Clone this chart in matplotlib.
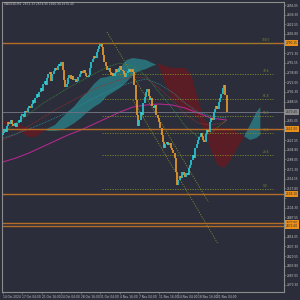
import matplotlib
matplotlib.use("Agg")
import matplotlib.pyplot as plt
import numpy as np

# ---------------- data ----------------
closes = [
    2634.0, 2640.5, 2636.2, 2646.2, 2653.1, 2648.8, 2656.5, 2650.1, 2645.6, 2651.4,
    2644.9, 2651.4, 2656.8, 2652.3, 2663.5, 2667.0, 2662.4, 2672.2, 2669.9, 2677.4,
    2681.1, 2676.8, 2684.3, 2690.8, 2686.3, 2694.7, 2701.9, 2696.7, 2705.1, 2712.3,
    2707.3, 2719.0, 2724.5, 2718.0, 2729.4, 2736.6, 2739.8, 2724.0, 2736.4, 2741.6,
    2746.8, 2743.5, 2750.2, 2753.7, 2749.4, 2757.2, 2743.3, 2726.0, 2713.8, 2719.0,
    2729.4, 2734.9, 2728.4, 2732.9, 2725.4, 2727.7, 2722.0, 2724.2, 2731.7, 2736.9,
    2741.8, 2738.6, 2743.3, 2737.8, 2733.4, 2730.9, 2734.6, 2746.8, 2757.2, 2762.4,
    2767.6, 2764.1, 2774.5, 2779.7, 2784.9, 2788.4, 2782.9, 2769.3, 2757.2, 2750.2,
    2743.3, 2747.6, 2739.8, 2734.4, 2737.6, 2732.4, 2738.1, 2744.6, 2740.0, 2746.8,
    2749.8, 2743.3, 2741.6, 2736.1, 2731.6, 2737.4, 2741.8, 2745.3, 2740.0, 2745.3,
    2739.8, 2717.3, 2691.3, 2665.2, 2646.2, 2656.5, 2670.4, 2665.4, 2686.0, 2696.5,
    2705.1, 2710.6, 2698.2, 2691.3, 2695.3, 2680.8, 2677.4, 2682.2, 2665.2, 2660.0,
    2653.1, 2642.7, 2630.5, 2618.4, 2608.0, 2615.2, 2618.4, 2612.9, 2616.5, 2608.0,
    2604.5, 2599.3, 2590.6, 2566.3, 2543.8, 2552.0, 2559.4, 2555.9, 2566.3, 2560.9,
    2557.4, 2564.9, 2560.3, 2573.3, 2578.5, 2587.2, 2595.8, 2590.0, 2608.0, 2614.9,
    2621.9, 2627.1, 2634.3, 2628.8, 2622.3, 2618.9, 2632.3, 2639.2, 2635.2, 2653.1,
    2660.0, 2656.2, 2670.4, 2675.6, 2680.8, 2676.3, 2687.8, 2694.7, 2701.7, 2712.1,
    2717.3, 2699.9, 2670.4,
]
first_open = 2630.0

# Ichimoku cloud (sampled every 5 bars)
cloud_bars = [0, 5, 10, 15, 20, 25, 30, 35, 40, 45, 50, 55, 60, 65, 70, 75, 80, 85, 90, 95,
              100, 105, 110, 115, 120, 125, 130, 135, 140, 145, 150, 155, 160, 165, 170, 175,
              180, 185, 190, 195, 198]
span_a = [2649.6, 2647.9, 2642.7, 2634.0, 2627.1, 2627.1, 2635.7, 2642.7, 2647.9, 2660.0,
          2670.4, 2680.8, 2694.7, 2705.1, 2719.0, 2729.4, 2731.2, 2734.6, 2746.8, 2760.7,
          2764.1, 2762.4, 2760.7, 2755.4, 2750.2, 2717.3, 2694.7, 2684.3, 2673.9, 2668.7,
          2660.0, 2639.2, 2604.5, 2578.5, 2573.3, 2587.2, 2608.0, 2625.3, 2647.9, 2670.4,
          2679.1]
span_b = [2654.8, 2654.8, 2653.1, 2646.2, 2642.7, 2641.0, 2641.0, 2637.5, 2637.5, 2639.2,
          2644.4, 2651.4, 2660.0, 2670.4, 2679.1, 2686.0, 2698.2, 2705.1, 2712.1, 2722.5,
          2734.6, 2741.6, 2745.0, 2750.2, 2753.7, 2750.2, 2746.8, 2746.8, 2746.8, 2734.6,
          2691.3, 2656.5, 2644.4, 2644.4, 2642.7, 2642.7, 2635.7, 2628.8, 2621.9, 2625.3,
          2630.5]

# moving averages
ma_bars = [0, 10, 20, 30, 40, 50, 60, 70, 80, 90, 100, 110, 120, 130, 140, 150, 160, 172]
ma_long = [2583.7, 2590.6, 2599.3, 2609.7, 2620.1, 2630.5, 2639.2, 2649.6, 2660.0, 2670.4,
           2679.1, 2682.6, 2684.3, 2682.6, 2677.4, 2668.7, 2660.0, 2656.5]
ma_green = [2634.0, 2651.4, 2667.0, 2684.3, 2698.2, 2712.1, 2724.2, 2736.4, 2748.5, 2755.4,
            2750.2, 2733.0, 2705.1, 2677.4, 2646.2, 2627.1, 2634.0, 2656.5]
ma_red = [2621.9, 2632.3, 2646.2, 2660.0, 2673.9, 2686.0, 2698.2, 2710.3, 2719.0, 2726.0,
          2731.2, 2729.4, 2712.1, 2691.3, 2667.0, 2651.4, 2647.9, 2653.1]
ma_teal = [2625.3, 2632.3, 2641.0, 2650.0, 2660.0, 2670.4, 2682.6, 2694.7, 2705.1, 2715.5,
           2722.5, 2727.7, 2719.0, 2705.1, 2686.0, 2670.4, 2663.5, 2660.0]

# descending channel (trend lines), endpoints as (bar, price)
trend_a = ([80, 158], [2809.3, 2514.3])
trend_b = ([100, 165], [2691.3, 2443.2])

# horizontal levels
orange_levels = [2790.15, 2641.0, 2528.1, 2477.8, 2472.6]
current_price = 2670.4
fib_ratios = ["100.0", "78.6", "61.8", "50.0", "38.2", "23.6", "0.0"]
fib_high = 2790.15
fib_low = 2536.85
fib_start_bar = 76

# axis ticks
ytick_values = [2856.05, 2839.30, 2822.55, 2805.80, 2789.05, 2772.30, 2755.55, 2738.80,
                2722.05, 2705.30, 2688.55, 2671.80, 2655.05, 2638.30, 2621.55, 2604.80,
                2588.05, 2571.30, 2554.55, 2537.80, 2521.05, 2504.30, 2487.55, 2470.80,
                2454.05, 2437.30, 2420.55, 2403.80, 2387.05, 2370.30]
xtick_bars = [0, 15, 30, 45, 60, 75, 90, 105, 120, 135, 150, 165]
xtick_labels = ["14 Oct 2024", "17 Oct 04:00", "21 Oct 16:00", "24 Oct 04:00",
                "28 Oct 16:00", "31 Oct 04:00", "4 Nov 16:00", "7 Nov 04:00",
                "11 Nov 16:00", "14 Nov 04:00", "18 Nov 16:00", "21 Nov 04:00"]
title_text = "XAUUSD,H4  2672.33 2674.90 2660.94 2670.40"

# ---------------- style ----------------
BG = "#2b2d3a"
AXC = "#8c8c8c"
TXT = "#c8c8c8"
BULL = "#26c6d0"
BEAR = "#e89a2c"
ORANGE = "#b56d26"
FIB = "#7d8a2e"
TEAL_CLOUD = "#2a7f88"
RED_CLOUD = "#5e1d24"
FS = 2.1

fig = plt.figure(figsize=(3, 3), dpi=100, facecolor=BG)
ax = fig.add_axes([2 / 300, 8 / 300, 282 / 300, 290 / 300])
ax.set_facecolor(BG)
ax.set_xlim(-0.77, 216.2)
ax.set_ylim(2358.1, 2861.3)

# cloud
cb = np.array(cloud_bars, dtype=float)
sa = np.array(span_a)
sb = np.array(span_b)
ax.fill_between(cb, sa, sb, where=sa >= sb, interpolate=True, color=TEAL_CLOUD,
                alpha=0.8, lw=0, zorder=1)
ax.fill_between(cb, sa, sb, where=sa < sb, interpolate=True, color=RED_CLOUD,
                alpha=0.95, lw=0, zorder=1)

# moving averages
ax.plot(ma_bars, ma_long, color="#b0288e", lw=0.8, zorder=2)
ax.plot(ma_bars, ma_green, color="#3e8a3a", lw=0.6, ls=(0, (1, 1)), zorder=2)
ax.plot(ma_bars, ma_red, color="#a0302c", lw=0.6, ls=(0, (1, 1)), zorder=2)
ax.plot(ma_bars, ma_teal, color="#2a8f9a", lw=0.6, ls=(0, (1, 1)), zorder=2)

# trend lines
for tb, tp in (trend_a, trend_b):
    ax.plot(tb, tp, color=FIB, lw=0.6, ls=(0, (1.5, 1.5)), zorder=2)

# horizontal lines
for lv in orange_levels:
    ax.axhline(lv, color=ORANGE, lw=1.0, zorder=2)
ax.axhline(current_price, color="#6f7080", lw=0.7, zorder=2)

# fibonacci levels
for r in fib_ratios:
    lv = fib_low + (fib_high - fib_low) * float(r) / 100.0
    ax.plot([fib_start_bar, 208], [lv, lv], color=FIB, lw=0.6, ls=(0, (1.5, 1.5)), zorder=2)
    ax.text(202, lv + 1.5, r, color=FIB, fontsize=FS, ha="center", va="bottom", zorder=5)

# candles
opens = [first_open] + closes[:-1]
for i, (o, c) in enumerate(zip(opens, closes)):
    col = BULL if c >= o else BEAR
    lo, hi = min(o, c), max(o, c)
    if hi - lo < 0.8:
        hi = lo + 0.8
    ax.vlines(i, lo, hi, color=col, lw=1.25, zorder=4)

# axes styling
for s in ax.spines.values():
    s.set_color(AXC)
    s.set_linewidth(0.8)

# tick labels hidden where a price box covers them (as the terminal does)
box_levels = orange_levels + [current_price]
ylabels = []
for v in ytick_values:
    covered = any(abs(v - b) < 7.5 for b in box_levels)
    ylabels.append("" if covered else f"{v:.2f}")

ax.yaxis.tick_right()
ax.set_yticks(ytick_values)
ax.set_yticklabels(ylabels, fontsize=FS, color=TXT)
ax.tick_params(axis="y", length=1.5, width=0.4, color=AXC, pad=0.8)
ax.set_xticks(xtick_bars)
ax.set_xticklabels(xtick_labels, fontsize=FS, color=TXT, ha="left")
ax.tick_params(axis="x", length=1.5, width=0.4, color=AXC, pad=0.5)

# price boxes on right axis
def price_box(val, face, tcol):
    ax.annotate(f"{val:.2f}", xy=(1.0, val), xycoords=("axes fraction", "data"),
                xytext=(1.3, 0), textcoords="offset points", fontsize=FS, color=tcol,
                va="center", ha="left", annotation_clip=False, zorder=10,
                bbox=dict(boxstyle="square,pad=0.2", fc=face, ec="none"))

for lv in orange_levels:
    price_box(lv, "#e8901a", "#2b2d3a")
price_box(current_price, "#8a8a8a", "#2b2d3a")

fig.text(4 / 300, 1 - 4 / 300, title_text, fontsize=FS, color=TXT,
         ha="left", va="center")

fig.savefig("out.png", dpi=100, facecolor=BG)
